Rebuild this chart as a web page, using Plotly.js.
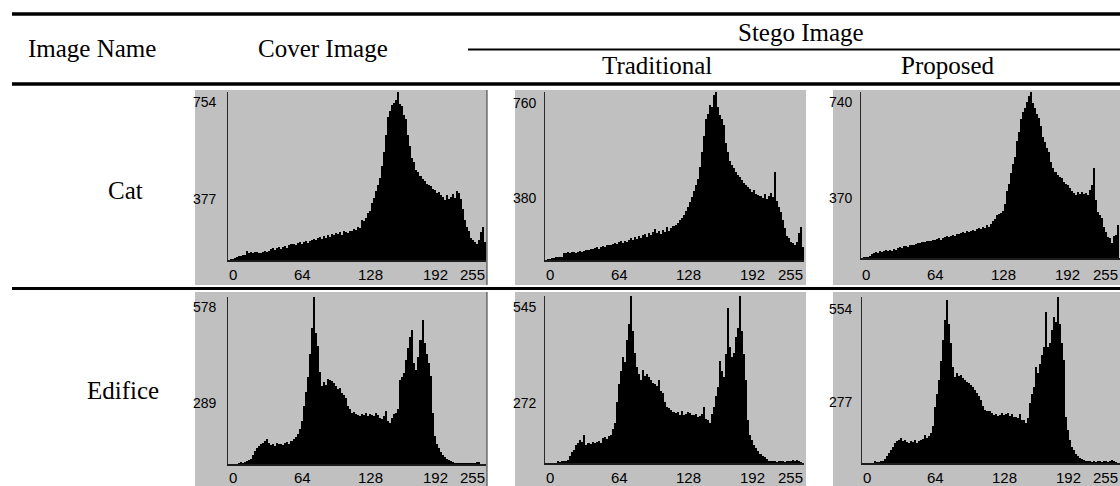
<!DOCTYPE html>
<html>
<head>
<meta charset="utf-8">
<script src="https://cdn.plot.ly/plotly-3.0.1.min.js"></script>
<style>html,body{margin:0;padding:0;background:#fff;}#chart{width:1120px;height:486px;}</style>
</head>
<body>
<div id="chart"></div>
<script>
// ---- DATA: histogram counts, one value per pair of gray levels (0-1, 2-3, ... 254-255) ----
const rowNames = ["Cat", "Edifice"];
const columnNames = ["Cover Image", "Traditional", "Proposed"];
const xTickValues = [0, 64, 128, 192, 255];

const catCover = [
  2,3,4,8,12,18,20,22,24,40,
  32,36,30,34,38,33,31,36,40,35,
  42,48,52,45,55,60,50,58,64,56,
  66,70,74,68,78,82,72,80,86,76,
  84,90,95,88,98,104,94,108,100,112,
  105,116,110,122,118,126,114,130,124,120,
  132,128,140,135,150,145,178,175,190,210,
  222,258,280,310,335,368,420,485,560,640,
  668,695,705,720,754,700,690,650,635,560,
  510,460,440,405,395,375,362,355,340,335,
  330,318,312,300,305,290,282,270,290,275,
  285,295,280,310,300,275,230,180,150,130,
  100,88,80,74,90,125,150,80];
const catTraditional = [
  2,3,5,8,10,12,14,13,15,33,
  30,35,32,38,34,31,37,40,36,42,
  44,46,50,48,55,58,52,60,64,58,
  68,70,66,74,78,72,80,84,78,88,
  82,92,98,90,102,96,108,100,112,118,
  106,120,114,126,140,122,130,118,135,128,
  150,132,145,152,160,168,180,190,205,220,
  240,262,285,310,340,365,420,490,560,640,
  660,700,690,745,760,690,655,640,610,530,
  490,450,430,414,400,385,376,360,350,338,
  330,320,308,315,300,295,290,282,300,278,
  290,305,285,399,265,240,218,180,143,110,
  98,83,75,68,80,120,148,60];
const catProposed = [
  2,3,4,6,10,18,22,26,24,30,
  28,32,35,30,36,33,38,37,44,48,
  46,52,55,50,58,60,56,62,66,68,
  72,70,75,78,74,82,80,84,88,82,
  90,94,98,92,100,104,98,108,105,112,
  118,110,122,116,120,126,122,130,135,128,
  140,132,145,138,150,165,175,190,195,200,
  208,240,300,330,380,420,450,520,560,620,
  651,670,696,720,740,690,670,640,622,590,
  540,518,490,474,430,400,385,370,360,355,
  340,330,326,310,300,290,281,295,285,296,
  285,290,281,305,326,400,260,207,190,178,
  140,118,95,89,67,100,104,148];
const edificeCover = [
  0,0,0,0,0,2,6,5,8,12,
  15,18,32,45,55,63,70,74,80,86,
  72,65,70,63,74,68,70,66,72,75,
  70,78,86,95,103,120,150,200,250,300,
  380,470,578,452,410,320,270,285,275,295,
  290,286,282,270,258,262,246,240,230,200,
  190,177,180,172,170,165,172,168,175,166,
  172,170,166,178,168,160,155,165,185,150,
  143,160,172,178,189,292,300,315,361,400,
  441,464,349,326,372,430,498,418,380,349,
  303,177,97,70,55,40,30,25,18,14,
  10,8,5,5,4,5,4,5,5,4,
  5,5,5,8,6,0,0,0];
const edificeTraditional = [
  0,0,0,0,0,0,5,4,5,5,
  6,10,22,35,43,59,65,76,70,92,
  60,66,62,70,64,68,72,66,80,86,
  78,88,92,110,130,200,259,300,345,330,
  400,453,545,432,360,313,290,270,302,285,
  291,280,270,262,259,250,270,235,227,200,
  184,178,173,168,162,165,158,170,156,160,
  165,162,158,156,160,150,155,160,184,145,
  140,130,160,184,220,248,334,300,281,356,
  507,378,345,360,410,440,545,432,356,270,
  140,90,76,60,49,38,30,24,18,12,
  8,5,5,5,4,5,5,5,4,5,
  5,5,11,6,11,8,3,0];
const edificeProposed = [
  0,0,0,0,0,0,6,5,5,6,
  8,15,22,32,44,55,66,72,78,83,
  74,78,70,66,72,70,76,68,74,78,
  80,94,82,89,100,122,188,230,277,340,
  410,476,543,465,399,320,288,299,292,294,
  285,277,270,266,260,255,245,233,222,210,
  190,177,175,172,168,161,165,158,161,166,
  160,163,166,158,162,155,155,150,165,144,
  144,133,150,199,230,255,321,300,332,360,
  388,504,388,400,443,487,470,554,465,400,
  343,155,110,78,55,44,30,22,18,14,
  11,8,6,6,5,6,5,6,6,5,
  6,6,5,8,10,6,4,0];

// y-axis labels shown in each histogram (max, half)
const catCoverLabels = ["754", "377"];
const catTraditionalLabels = ["760", "380"];
const catProposedLabels = ["740", "370"];
const edificeCoverLabels = ["578", "289"];
const edificeTraditionalLabels = ["545", "272"];
const edificeProposedLabels = ["554", "277"];

// bin centres for the gray-level pairs
const bins = catCover.map((_, k) => 2 * k + 1);

// ---- LAYOUT (pixels) ----
const W = 1120, H = 486;
const px = x => x / W;
const py = y => 1 - y / H;

const serif = "'Liberation Serif', 'Times New Roman', Times, serif";
const narrow = "'Liberation Sans Narrow', 'Liberation Sans', Arial, sans-serif";
const GRAY = "#c0c0c0";

const panels = [
  {data: catCover, labels: catCoverLabels, x0: 228, x1: 486, top: 92, bot: 260, xr: [0, 256], gx0: 195, gx1: 487, gy0: 90, gy1: 285, labX: 205, labY: [102, 199], tickY: 274, edge: true},
  {data: catTraditional, labels: catTraditionalLabels, x0: 545, x1: 804, top: 92, bot: 260, xr: [0, 256], gx0: 515, gx1: 806, gy0: 90, gy1: 285, labX: 525, labY: [103, 198], tickY: 274},
  {data: catProposed, labels: catProposedLabels, x0: 861, x1: 1120, top: 92, bot: 258, xr: [0, 257], gx0: 833, gx1: 1120, gy0: 90, gy1: 285, labX: 841, labY: [102, 198], tickY: 274},
  {data: edificeCover, labels: edificeCoverLabels, x0: 228, x1: 486, top: 297, bot: 464, xr: [0, 256], gx0: 195, gx1: 487, gy0: 292, gy1: 486, labX: 205, labY: [307, 403], tickY: 477, edge: true},
  {data: edificeTraditional, labels: edificeTraditionalLabels, x0: 545, x1: 804, top: 296, bot: 463, xr: [0, 256], gx0: 515, gx1: 806, gy0: 292, gy1: 486, labX: 525, labY: [307, 403], tickY: 477},
  {data: edificeProposed, labels: edificeProposedLabels, x0: 862, x1: 1120, top: 297, bot: 463, xr: [0, 257], gx0: 833, gx1: 1120, gy0: 292, gy1: 486, labX: 841, labY: [309, 402], tickY: 477}
];

const traces = [];
const layout = {
  width: W, height: H, autosize: false,
  margin: {l: 0, r: 0, t: 0, b: 0, pad: 0},
  paper_bgcolor: "#ffffff", plot_bgcolor: GRAY,
  showlegend: false, bargap: 0, barmode: "overlay",
  shapes: [], annotations: []
};

panels.forEach((p, i) => {
  const n = i === 0 ? "" : String(i + 1);
  const maxVal = Number(p.labels[0]);
  traces.push({
    type: "bar", x: bins, y: p.data, width: 2,
    marker: {color: "#000000", line: {width: 0}},
    xaxis: "x" + n, yaxis: "y" + n, hoverinfo: "skip"
  });
  layout["xaxis" + n] = {
    domain: [px(p.x0), px(p.x1)], range: p.xr, anchor: "y" + n,
    showgrid: false, zeroline: false, showticklabels: false, ticks: "",
    showline: true, linecolor: "#1c1c1c", linewidth: 2, fixedrange: true
  };
  layout["yaxis" + n] = {
    domain: [py(p.bot), py(p.top)], range: [0, maxVal], anchor: "x" + n,
    showgrid: false, zeroline: false, showticklabels: false, ticks: "",
    showline: true, linecolor: "#2a2a2a", linewidth: 1.5, fixedrange: true
  };
  // gray panel behind the histogram
  layout.shapes.push({type: "rect", xref: "paper", yref: "paper", layer: "below",
    x0: px(p.gx0), x1: px(p.gx1), y0: py(p.gy1), y1: py(p.gy0),
    fillcolor: GRAY, line: {width: 0}});
  if (p.edge) {
    layout.shapes.push({type: "line", xref: "paper", yref: "paper",
      x0: px(p.gx1), x1: px(p.gx1), y0: py(p.gy1), y1: py(p.gy0),
      line: {color: "#333333", width: 1}});
  }
  // y labels
  p.labels.forEach((t, j) => {
    layout.annotations.push({xref: "paper", yref: "paper", x: px(p.labX), y: py(p.labY[j]),
      xanchor: "center", yanchor: "middle", text: t, showarrow: false,
      font: {family: narrow, size: 14, color: "#000"}});
  });
  // x tick labels
  xTickValues.forEach(t => {
    const last = t === 255;
    layout.annotations.push({xref: "x" + n, yref: "paper", x: last ? 256 : t, y: py(p.tickY),
      xanchor: last ? "right" : "left", yanchor: "middle", text: String(t), showarrow: false,
      borderpad: 0, font: {family: narrow, size: 15, color: "#000"}});
  });
});

// table rules
const rule = (x0, x1, y, w) => ({type: "line", xref: "paper", yref: "paper",
  x0: px(x0), x1: px(x1), y0: py(y), y1: py(y), line: {color: "#000", width: w}});
layout.shapes.push(rule(12, 1120, 14, 3.3));
layout.shapes.push(rule(12, 1120, 84, 3.5));
layout.shapes.push(rule(468, 1120, 49.5, 2));
layout.shapes.push(rule(12, 1120, 288.5, 3));

// header and row texts
const txt = (t, x, y, size) => ({xref: "paper", yref: "paper", x: px(x), y: py(y),
  xanchor: "center", yanchor: "middle", text: t, showarrow: false,
  font: {family: serif, size: size, color: "#000"}});
layout.annotations.push(txt("Image Name", 91.5, 48, 25));
layout.annotations.push(txt(columnNames[0], 323, 48, 25));
layout.annotations.push(txt("Stego Image", 801, 33, 25));
layout.annotations.push(txt(columnNames[1], 657, 65, 25));
layout.annotations.push(txt(columnNames[2], 948, 65, 25));
layout.annotations.push(txt(rowNames[0], 125, 190, 25));
layout.annotations.push(txt(rowNames[1], 123, 390, 25));

Plotly.newPlot("chart", traces, layout, {displayModeBar: false, staticPlot: true});
</script>
</body>
</html>
